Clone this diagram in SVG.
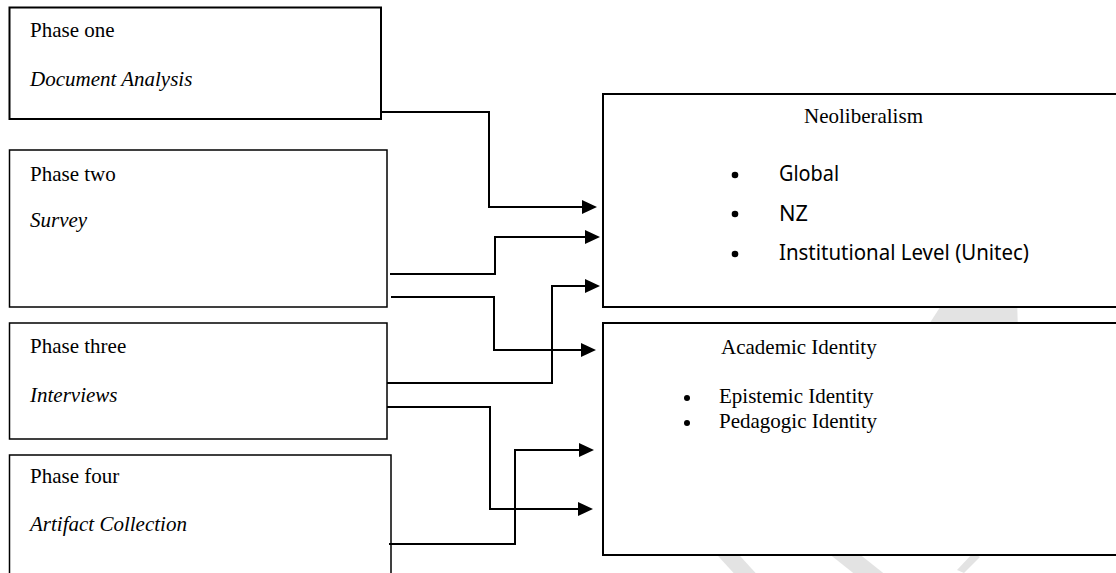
<svg xmlns="http://www.w3.org/2000/svg" width="1116" height="573" viewBox="0 0 1116 573">
  <style>
    .box { fill: #ffffff; stroke: #000000; }
    .thin { stroke-width: 1.5; }
    .thick { stroke-width: 2; }
    .serif { font-family: "Liberation Serif", "Times New Roman", serif; font-size: 21px; fill: #000000; }
    .ital { font-style: italic; }
    .sans { font-family: "Noto Sans", "Open Sans", sans-serif; font-size: 21px; fill: #000000; }
    .link { fill: none; stroke: #000000; stroke-width: 2; marker-end: url(#arrow); }
    .mark { fill: #e3e3e3; }
  </style>
  <defs>
    <marker id="arrow" markerUnits="userSpaceOnUse" markerWidth="16" markerHeight="15" refX="7" refY="7" orient="auto" overflow="visible">
      <path d="M0,0 L15,7 L0,14 Z" fill="#000000"/>
    </marker>
  </defs>

  <rect width="1116" height="573" fill="#ffffff"/>

  <!-- faint background mark, mostly hidden behind the boxes -->
  <g id="watermark">
    <polygon class="mark" points="924,332 946,298 1017,298 1018,332"/>
    <polygon class="mark" points="708,545 730,545 762,580 740,580"/>
    <polygon class="mark" points="818,545 848,545 892,580 862,580"/>
    <polygon class="mark" points="957,570 964,573 980,557 973,553"/>
  </g>

  <g id="phase-one">
    <rect class="box thick" x="9.5" y="7.5" width="371.5" height="111.5"/>
    <text class="serif" x="30" y="37">Phase one</text>
    <text class="serif ital" x="30" y="86">Document Analysis</text>
  </g>

  <g id="phase-two">
    <rect class="box thin" x="9.5" y="150" width="377.5" height="157"/>
    <text class="serif" x="30" y="181">Phase two</text>
    <text class="serif ital" x="30" y="227">Survey</text>
  </g>

  <g id="phase-three">
    <rect class="box thin" x="9.5" y="323" width="377.5" height="116"/>
    <text class="serif" x="30" y="353">Phase three</text>
    <text class="serif ital" x="30" y="402">Interviews</text>
  </g>

  <g id="phase-four">
    <rect class="box thin" x="9.5" y="455" width="381.5" height="130"/>
    <text class="serif" x="30" y="483">Phase four</text>
    <text class="serif ital" x="30" y="531">Artifact Collection</text>
  </g>

  <g id="neoliberalism">
    <rect class="box thick" x="603" y="94" width="525" height="213"/>
    <text class="serif" x="804" y="123">Neoliberalism</text>
    <circle cx="735" cy="175" r="3.3"/>
    <circle cx="735" cy="214" r="3.3"/>
    <circle cx="735" cy="254" r="3.3"/>
    <text class="sans" x="779" y="180.5" textLength="60" lengthAdjust="spacingAndGlyphs">Global</text>
    <text class="sans" x="779" y="221" textLength="29" lengthAdjust="spacingAndGlyphs">NZ</text>
    <text class="sans" x="779" y="260" textLength="250" lengthAdjust="spacingAndGlyphs">Institutional Level (Unitec)</text>
  </g>

  <g id="academic-identity">
    <rect class="box thick" x="603" y="323" width="525" height="232"/>
    <text class="serif" x="721" y="354">Academic Identity</text>
    <circle cx="687" cy="398" r="3"/>
    <circle cx="687" cy="423" r="3"/>
    <text class="serif" x="719" y="403">Epistemic Identity</text>
    <text class="serif" x="719" y="428">Pedagogic Identity</text>
  </g>

  <g id="connectors">
    <path class="link" d="M381,112 H489 V207 H589"/>
    <path class="link" d="M390,274 H495 V237 H592"/>
    <path class="link" d="M391,297 H494 V350 H588"/>
    <path class="link" d="M387,383 H552 V286 H592"/>
    <path class="link" d="M387,407 H490 V509 H585"/>
    <path class="link" d="M389,544 H515 V450 H586"/>
  </g>
</svg>
